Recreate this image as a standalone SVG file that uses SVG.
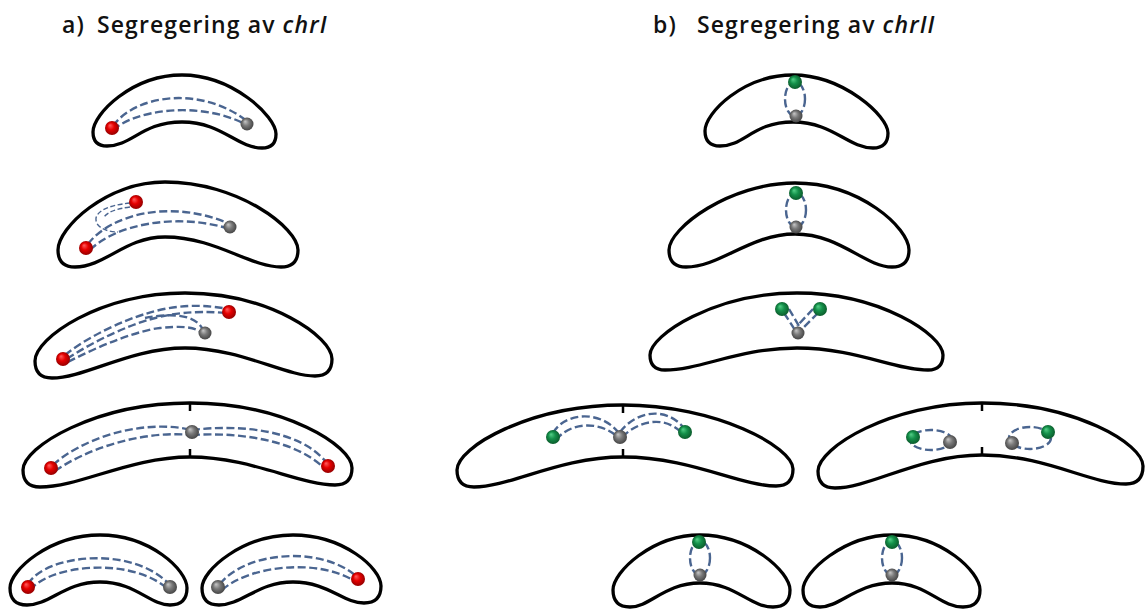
<svg xmlns="http://www.w3.org/2000/svg" width="1145" height="610" viewBox="0 0 1145 610">
  <defs>
    <radialGradient id="gRed" cx="0.5" cy="0.5" r="0.55" fx="0.35" fy="0.3">
      <stop offset="0" stop-color="#ff6060"/>
      <stop offset="0.45" stop-color="#e60000"/>
      <stop offset="1" stop-color="#8a0000"/>
    </radialGradient>
    <radialGradient id="gGrey" cx="0.5" cy="0.5" r="0.55" fx="0.35" fy="0.3">
      <stop offset="0" stop-color="#c8c8c8"/>
      <stop offset="0.45" stop-color="#7a7a7a"/>
      <stop offset="1" stop-color="#3e3e3e"/>
    </radialGradient>
    <radialGradient id="gGreen" cx="0.5" cy="0.5" r="0.55" fx="0.35" fy="0.3">
      <stop offset="0" stop-color="#55d088"/>
      <stop offset="0.45" stop-color="#14904a"/>
      <stop offset="1" stop-color="#0a5528"/>
    </radialGradient>
    <style>
      .cell { fill: #ffffff; stroke: #000000; stroke-width: 3.3; stroke-linejoin: round; }
      .tick { stroke: #000000; stroke-width: 2.5; }
      .dna { fill: none; stroke: #4a6590; stroke-width: 2.4; stroke-dasharray: 8 3.5; stroke-linecap: butt; }
      .dna-thin { fill: none; stroke: #4a6590; stroke-width: 1.4; stroke-dasharray: 5 2.5; }
      .red { fill: url(#gRed); }
      .grey { fill: url(#gGrey); }
      .green { fill: url(#gGreen); }
      .title { font-family: "Open Sans", "Liberation Sans", sans-serif; font-size: 23px; font-weight: 600; letter-spacing: 1.1px; fill: #111111; }
    </style>
  </defs>

  <rect width="1145" height="610" fill="#ffffff"/>

  <!-- headings -->
  <text class="title" x="62" y="33">a)<tspan x="97">Segregering av </tspan><tspan font-style="italic">chrI</tspan></text>
  <text class="title" x="653" y="33">b)<tspan x="697">Segregering av </tspan><tspan font-style="italic">chrII</tspan></text>

  <!-- ===== column a: chrI ===== -->
  <g id="a1">
    <path class="cell" d="M107,146 Q93,146 93,132 C93,114 132,75 182,75 C232,75 276,116 276,134 Q276,148 262,148 C237,148 222,122 182,122 C142,122 132,146 107,146 Z"/>
    <path class="dna" d="M113,126 C135,95 200,85 247,121"/>
    <path class="dna" d="M113,130 C135,110 200,100 247,125"/>
    <circle class="red" cx="112" cy="128" r="7"/>
    <circle class="grey" cx="247" cy="124" r="6.5"/>
  </g>

  <g id="a2">
    <path class="cell" d="M75,267 Q58,267 58,250 C58,228 106,182 165,182 C238,182 298,228 298,250 Q298,267 281,267 C250,267 215,237 165,237 C125,237 105,267 75,267 Z"/>
    <path class="dna" d="M88,244 C110,215 170,198 230,224"/>
    <path class="dna" d="M90,250 C115,225 175,212 230,229"/>
    <path class="dna-thin" d="M130,203 C110,205 98,210 96,218 C95,228 108,232 118,232"/>
    <path class="dna-thin" d="M130,207 C115,209 108,212 104,217"/>
    <circle class="red" cx="136" cy="202" r="7"/>
    <circle class="red" cx="86" cy="248" r="7"/>
    <circle class="grey" cx="230" cy="227" r="6.5"/>
  </g>

  <g id="a3">
    <path class="cell" d="M52,378 Q35,378 35,361 C35,338 100,293 185,293 C270,293 332,337 332,359 Q332,376 315,376 C285,376 240,348 185,348 C130,348 85,378 52,378 Z"/>
    <path class="dna" d="M65,355 C90,335 125,320 145,314 S190,302 229,309"/>
    <path class="dna" d="M67,359 C95,340 128,326 148,320 S195,310 225,313"/>
    <path class="dna" d="M145,318 C165,314 195,312 203,330"/>
    <path class="dna" d="M68,362 C100,345 140,330 160,328 S195,326 203,334"/>
    <circle class="red" cx="63" cy="359" r="7"/>
    <circle class="red" cx="229" cy="312" r="7"/>
    <circle class="grey" cx="205" cy="333" r="6.5"/>
  </g>

  <g id="a4">
    <path class="cell" d="M40,487 Q23,487 23,470 C23,447 95,403 190,403 C285,403 352,446 352,468 Q352,485 335,485 C300,485 250,457 190,457 C130,457 80,487 40,487 Z"/>
    <line class="tick" x1="190" y1="403" x2="190" y2="411"/>
    <line class="tick" x1="190" y1="449" x2="190" y2="457"/>
    <path class="dna" d="M53,465 C80,440 140,418 192,430"/>
    <path class="dna" d="M55,471 C85,450 140,430 192,435"/>
    <path class="dna" d="M192,430 C240,424 300,430 326,462"/>
    <path class="dna" d="M192,435 C240,432 295,440 324,468"/>
    <circle class="red" cx="51" cy="468" r="7"/>
    <circle class="grey" cx="192" cy="432" r="7"/>
    <circle class="red" cx="328" cy="466" r="7"/>
  </g>

  <g id="a5-left">
    <path class="cell" d="M27,605 Q10,605 10,588 C10,570 50,535 100,535 C150,535 187,570 187,588 Q187,605 170,605 C150,605 135,582 100,582 C65,582 50,605 27,605 Z"/>
    <path class="dna" d="M28,584 C45,555 130,545 168,583"/>
    <path class="dna" d="M30,590 C50,565 130,556 168,589"/>
    <circle class="red" cx="28" cy="587" r="7"/>
    <circle class="grey" cx="170" cy="587" r="7"/>
  </g>

  <g id="a5-right">
    <path class="cell" d="M219,605 Q202,605 202,588 C202,570 243,535 293,535 C343,535 381,568 381,586 Q381,603 364,603 C343,603 328,582 293,582 C258,582 242,605 219,605 Z"/>
    <path class="dna" d="M220,584 C245,552 320,545 356,576"/>
    <path class="dna" d="M222,590 C250,565 320,558 356,582"/>
    <circle class="grey" cx="218" cy="587" r="7"/>
    <circle class="red" cx="358" cy="579" r="7"/>
  </g>

  <!-- ===== column b: chrII ===== -->
  <g id="b1">
    <path class="cell" d="M720,146 Q705,146 705,131 C705,113 743,75 793,75 C843,75 888,116 888,133 Q888,148 873,148 C848,148 833,122 793,122 C753,122 745,146 720,146 Z"/>
    <ellipse class="dna" cx="795" cy="99" rx="10" ry="17"/>
    <circle class="green" cx="795" cy="82" r="7"/>
    <circle class="grey" cx="796" cy="116" r="6.5"/>
  </g>

  <g id="b2">
    <path class="cell" d="M686,267 Q669,267 669,250 C669,228 730,183 795,183 C860,183 909,228 909,250 Q909,267 892,267 C865,267 840,234 795,234 C750,234 720,267 686,267 Z"/>
    <ellipse class="dna" cx="796" cy="210" rx="10" ry="17"/>
    <circle class="green" cx="796" cy="193" r="7"/>
    <circle class="grey" cx="796" cy="227" r="6.5"/>
  </g>

  <g id="b3">
    <path class="cell" d="M665,370 Q650,370 650,355 C650,335 715,293 797,293 C880,293 943,335 943,355 Q943,370 928,370 C895,370 855,348 797,348 C740,348 700,370 665,370 Z"/>
    <path class="dna" d="M784,313 L795,330"/>
    <path class="dna" d="M789,309 L799,326"/>
    <path class="dna" d="M818,313 L801,330"/>
    <path class="dna" d="M813,309 L797,326"/>
    <circle class="green" cx="782" cy="309" r="7"/>
    <circle class="green" cx="820" cy="309" r="7"/>
    <circle class="grey" cx="798" cy="333" r="6.5"/>
  </g>

  <g id="b4-left">
    <path class="cell" d="M474,487 Q457,487 457,470 C457,447 530,405 623,405 C716,405 793,447 793,469 Q793,486 776,486 C740,486 690,457 623,457 C560,457 510,487 474,487 Z"/>
    <line class="tick" x1="623" y1="405" x2="623" y2="413"/>
    <line class="tick" x1="623" y1="449" x2="623" y2="457"/>
    <path class="dna" d="M553,433 C565,412 600,410 618,432"/>
    <path class="dna" d="M556,440 C570,422 600,420 619,438"/>
    <path class="dna" d="M620,432 C635,412 665,405 684,428"/>
    <path class="dna" d="M622,437 C640,420 665,415 683,434"/>
    <circle class="green" cx="553" cy="437" r="7"/>
    <circle class="grey" cx="620" cy="437" r="7"/>
    <circle class="green" cx="685" cy="432" r="7"/>
  </g>

  <g id="b4-right">
    <path class="cell" d="M835,488 Q818,488 818,471 C818,448 890,403 982,403 C1075,403 1143,444 1143,466 Q1143,484 1126,484 C1090,484 1045,455 982,455 C920,455 870,488 835,488 Z"/>
    <line class="tick" x1="982" y1="403" x2="982" y2="411"/>
    <line class="tick" x1="982" y1="447" x2="982" y2="455"/>
    <ellipse class="dna" cx="931" cy="440" rx="21" ry="10"/>
    <ellipse class="dna" cx="1030" cy="438" rx="21" ry="11"/>
    <circle class="green" cx="913" cy="437" r="7"/>
    <circle class="grey" cx="950" cy="442" r="7"/>
    <circle class="grey" cx="1012" cy="443" r="7"/>
    <circle class="green" cx="1048" cy="432" r="7"/>
  </g>

  <g id="b5-left">
    <path class="cell" d="M630,607 Q613,607 613,590 C613,572 652,535 700,535 C750,535 790,572 790,590 Q790,607 773,607 C750,607 735,583 700,583 C665,583 650,607 630,607 Z"/>
    <ellipse class="dna" cx="700" cy="558" rx="10" ry="17"/>
    <circle class="green" cx="699" cy="542" r="7"/>
    <circle class="grey" cx="700" cy="575" r="6.5"/>
  </g>

  <g id="b5-right">
    <path class="cell" d="M820,607 Q803,607 803,590 C803,572 844,535 892,535 C942,535 980,572 980,590 Q980,607 963,607 C940,607 927,583 892,583 C857,583 840,607 820,607 Z"/>
    <ellipse class="dna" cx="892" cy="558" rx="10" ry="17"/>
    <circle class="green" cx="892" cy="542" r="7"/>
    <circle class="grey" cx="892" cy="575" r="6.5"/>
  </g>
</svg>
